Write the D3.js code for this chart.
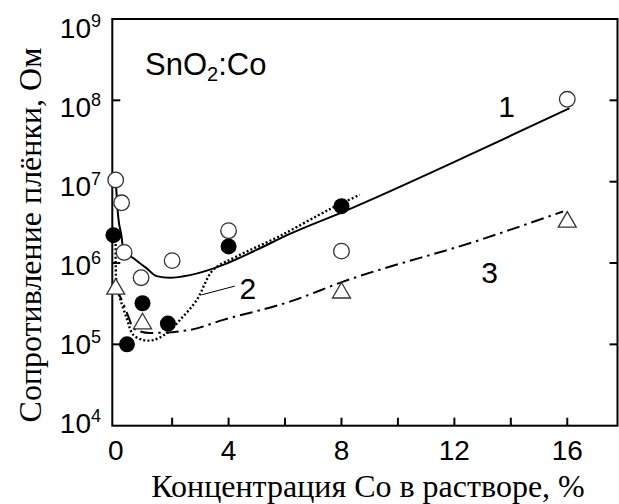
<!DOCTYPE html>
<html>
<head>
<meta charset="utf-8">
<script src="https://cdn.jsdelivr.net/npm/d3@7"></script>
<style>
  body { margin: 0; background: #fff; }
  svg { display: block; }
</style>
</head>
<body>
<svg id="chart" width="619" height="504"></svg>
<script>
// Measured points: open circles (curve 1)
const openX = [0, 0.21, 0.3, 0.9, 2, 4, 8, 16];
const openR = [1.05e7, 5.5e6, 1.35e6, 6.6e5, 1.07e6, 2.5e6, 1.4e6, 1.03e8];
// Filled circles (curve 2)
const filledX = [-0.08, 0.4, 0.95, 1.85, 4, 8];
const filledR = [2.2e6, 1.0e5, 3.2e5, 1.8e5, 1.6e6, 5.0e6];
// Triangles (curve 3)
const triX = [0, 0.95, 8, 16];
const triR = [4.8e5, 1.8e5, 4.3e5, 3.2e6];

// Fitted curve 1 (solid)
const fit1X = [0, 0.09, 0.21, 0.27, 0.62, 1.1, 1.45, 1.92, 2.63, 3.81, 4.99, 6.17, 8.06, 12.9, 16.08];
const fit1R = [1.05e7, 3.7e6, 2.1e6, 1.45e6, 1.15e6, 8.6e5, 6.9e5, 6.6e5, 7.1e5, 9.5e5, 1.45e6, 2.28e6, 4.26e6, 2.44e7, 8.0e7];
// Fitted curve 2 (dotted)
const fit2X = [0, 0.02, 0.1, 0.39, 0.62, 0.98, 1.33, 1.81, 2.28, 2.87, 3.45, 4.28, 5.82, 7.59, 8.65];
const fit2R = [1.92e6, 6.2e5, 4.26e5, 2.1e5, 1.31e5, 1.13e5, 1.13e5, 1.37e5, 2.0e5, 3.5e5, 8.2e5, 1.2e6, 2.15e6, 4.6e6, 6.9e6];
// Fitted curve 3 (dash-dot)
const fit3X = [0, 0.15, 0.45, 0.62, 1.2, 2.6, 3.81, 6.17, 8.06, 12.9, 15.85];
const fit3R = [4.8e5, 3.9e5, 2.2e5, 1.58e5, 1.38e5, 1.5e5, 2.0e5, 3.35e5, 5.9e5, 1.92e6, 4.3e6];

// Axis ticks and labels
const xTicks = [2, 4, 6, 8, 10, 12, 14, 16];
const xTickLabels = [0, 4, 8, 12, 16];
const yDecades = [1e4, 1e5, 1e6, 1e7, 1e8, 1e9];
const curveLabels = ["1", "2", "3"];

const svg = d3.select("#chart");
const plotLeft = 112.3, plotRight = 617.5, plotTop = 19, plotBottom = 425.7;

const x = d3.scaleLinear().domain([-0.12, 17.78]).range([plotLeft, plotRight]);
const y = d3.scaleLog().domain([1e4, 1e9]).range([plotBottom, plotTop]);
// Decade labels sit on a slightly tighter spacing than the ticks
const yLab = d3.scaleLog().domain([1e4, 1e9]).range([433, 38.4]);

const sans = "'Liberation Sans', Arial, sans-serif";
const serif = "'Liberation Serif', 'Times New Roman', serif";

// Frame
svg.append("rect")
  .attr("x", plotLeft).attr("y", plotTop)
  .attr("width", plotRight - plotLeft).attr("height", plotBottom - plotTop)
  .attr("fill", "none").attr("stroke", "#000").attr("stroke-width", 2);

// Bottom ticks (inward)
svg.append("g").selectAll("line").data(xTicks).join("line")
  .attr("x1", d => x(d)).attr("x2", d => x(d))
  .attr("y1", plotBottom).attr("y2", plotBottom - 8)
  .attr("stroke", "#000").attr("stroke-width", 2);

// Left and right decade ticks (inward)
svg.append("g").selectAll("line").data(yDecades.slice(1, 5)).join("line")
  .attr("x1", plotLeft).attr("x2", plotLeft + 8)
  .attr("y1", d => y(d)).attr("y2", d => y(d))
  .attr("stroke", "#000").attr("stroke-width", 2);
svg.append("g").selectAll("line").data(yDecades.slice(1, 5)).join("line")
  .attr("x1", plotRight).attr("x2", plotRight - 8)
  .attr("y1", d => y(d)).attr("y2", d => y(d))
  .attr("stroke", "#000").attr("stroke-width", 2);

// X tick labels
svg.append("g").selectAll("text").data(xTickLabels).join("text")
  .attr("x", d => x(d)).attr("y", 460)
  .attr("text-anchor", "middle")
  .attr("font-family", sans).attr("font-size", 28)
  .text(d => d);

// Y tick labels: 10 with superscript exponent
const yl = svg.append("g").selectAll("text").data(yDecades).join("text")
  .attr("x", 101).attr("y", d => yLab(d))
  .attr("text-anchor", "end")
  .attr("font-family", sans).attr("font-size", 28);
yl.append("tspan").text("10");
yl.append("tspan").attr("dy", -11).attr("font-size", 18)
  .text(d => Math.round(Math.log10(d)));

// Axis titles
svg.append("text")
  .attr("x", 368).attr("y", 497)
  .attr("text-anchor", "middle")
  .attr("font-family", serif).attr("font-size", 32)
  .text("Концентрация Со в растворе, %");
svg.append("text")
  .attr("transform", "translate(41,235) rotate(-90)")
  .attr("text-anchor", "middle")
  .attr("font-family", serif).attr("font-size", 32)
  .text("Сопротивление плёнки, Ом");

// Material label
const mat = svg.append("text")
  .attr("x", 145).attr("y", 75)
  .attr("font-family", sans).attr("font-size", 31);
mat.append("tspan").text("SnO");
mat.append("tspan").attr("font-size", 20).attr("dy", 6).text("2");
mat.append("tspan").attr("dy", -6).text(":Co");

// Curves
const line = (xs, rs, curve) => d3.line()
  .x((d, i) => x(xs[i])).y(d => y(d))
  .curve(curve)(rs);

svg.append("path")
  .attr("d", line(fit3X, fit3R, d3.curveMonotoneX))
  .attr("fill", "none").attr("stroke", "#000").attr("stroke-width", 2)
  .attr("stroke-dasharray", "13,5,2.5,5");
svg.append("path")
  .attr("d", line(fit2X, fit2R, d3.curveCatmullRom))
  .attr("fill", "none").attr("stroke", "#000").attr("stroke-width", 2.4)
  .attr("stroke-dasharray", "2,2.2");
svg.append("path")
  .attr("d", line(fit1X, fit1R, d3.curveMonotoneX))
  .attr("fill", "none").attr("stroke", "#000").attr("stroke-width", 2);

// Curve 2 leader line
svg.append("line")
  .attr("x1", x(4.22)).attr("y1", y(5.2e5))
  .attr("x2", x(3.04)).attr("y2", y(4.06e5))
  .attr("stroke", "#000").attr("stroke-width", 1);

// Curve number labels (value coordinates of each label's centre)
const labelPos = [[13.85, 8.6e7], [4.68, 4.9e5], [13.25, 7.7e5]];
svg.append("g").selectAll("text").data(curveLabels).join("text")
  .attr("x", (d, i) => x(labelPos[i][0]))
  .attr("y", (d, i) => y(labelPos[i][1]) + 11)
  .attr("text-anchor", "middle")
  .attr("font-family", sans).attr("font-size", 30)
  .text(d => d);

// Markers
svg.append("g").selectAll("path").data(triR).join("path")
  .attr("d", d3.symbol(d3.symbolTriangle, 140)())
  .attr("transform", (d, i) => `translate(${x(triX[i])},${y(d)})`)
  .attr("fill", "#fff").attr("stroke", "#333").attr("stroke-width", 1.3);
svg.append("g").selectAll("circle").data(openR).join("circle")
  .attr("cx", (d, i) => x(openX[i])).attr("cy", d => y(d)).attr("r", 7.8)
  .attr("fill", "#fff").attr("stroke", "#333").attr("stroke-width", 1.3);
svg.append("g").selectAll("circle").data(filledR).join("circle")
  .attr("cx", (d, i) => x(filledX[i])).attr("cy", d => y(d)).attr("r", 8)
  .attr("fill", "#000");
</script>
</body>
</html>
